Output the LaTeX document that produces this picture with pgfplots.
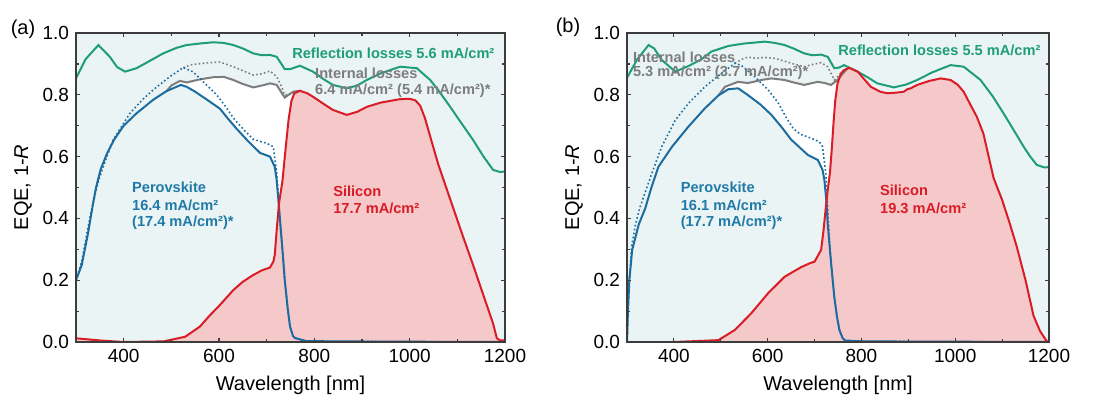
\documentclass[border=0pt]{standalone}
\usepackage{fontspec}
\setmainfont{Liberation Sans}
\usepackage{pgfplots}
\usepackage{pgfplotstable}
\pgfplotsset{compat=1.18}
\definecolor{bgteal}{RGB}{234,244,244}
\definecolor{sipink}{RGB}{245,200,202}
\definecolor{refgreen}{RGB}{30,158,118}
\definecolor{pvblue}{RGB}{28,108,160}
\definecolor{pvtext}{RGB}{32,122,168}
\definecolor{sired}{RGB}{218,28,38}
\definecolor{lossgray}{RGB}{125,125,125}
\definecolor{frame}{RGB}{60,60,60}

% ---------- panel (a) ----------
\pgfplotstableread{
x y
300 0.853
320 0.915
347 0.961
371 0.923
386 0.890
403 0.875
427 0.886
455 0.910
483 0.934
511 0.952
532 0.961
560 0.966
588 0.970
610 0.968
630 0.961
650 0.950
672 0.934
690 0.928
707 0.929
721 0.923
738 0.883
749 0.883
770 0.894
797 0.875
820 0.850
839 0.832
868 0.821
890 0.830
910 0.848
940 0.870
980 0.891
1015 0.886
1043 0.848
1060 0.815
1085 0.761
1110 0.705
1133 0.654
1155 0.600
1175 0.557
1190 0.550
1200 0.552
}\rA
\pgfplotstableread{
x y
300 0.200
312 0.249
325 0.350
336 0.450
342 0.500
352 0.560
365 0.610
380 0.655
400 0.700
427 0.740
462 0.784
490 0.812
520 0.832
532 0.826
550 0.810
574 0.785
602 0.755
616 0.728
637 0.690
658 0.655
686 0.612
707 0.600
717 0.567
721 0.524
724 0.470
728 0.395
733 0.300
738 0.200
744 0.110
749 0.050
755 0.020
759 0.013
783 0.003
850 0.002
1000 0.001
1200 0.000
}\pvA
\pgfplotstableread{
x y
300 0.200
312 0.260
325 0.370
333 0.430
345 0.510
357 0.567
378 0.654
413 0.740
440 0.785
462 0.816
497 0.859
525 0.888
546 0.874
565 0.845
595 0.800
615 0.760
630 0.725
650 0.690
672 0.656
700 0.643
714 0.632
721 0.546
725 0.460
728 0.395
733 0.300
738 0.200
744 0.110
749 0.050
755 0.020
759 0.013
783 0.003
850 0.002
1000 0.001
1200 0.000
}\pvdA
\pgfplotstableread{
x y
525 0.888
540 0.897
567 0.902
588 0.905
602 0.906
630 0.891
650 0.878
672 0.864
690 0.868
707 0.877
721 0.859
730 0.830
738 0.799
745 0.800
756 0.810
770 0.813
}\sdA
\pgfplotstableread{
x y
490 0.812
500 0.830
518 0.845
532 0.840
560 0.850
588 0.857
610 0.858
630 0.848
650 0.835
672 0.824
690 0.830
707 0.837
721 0.832
730 0.810
738 0.791
746 0.800
756 0.810
770 0.813
}\grA
\pgfplotstableread{
x y
300 0.012
350 0.005
400 0.000
484 0.002
529 0.017
560 0.050
580 0.085
602 0.120
630 0.168
650 0.195
672 0.217
690 0.232
707 0.241
714 0.260
717 0.282
721 0.362
726 0.450
733 0.520
740 0.630
746 0.720
752 0.780
758 0.805
770 0.813
785 0.805
797 0.794
820 0.770
839 0.751
868 0.735
890 0.745
910 0.761
940 0.775
980 0.786
1000 0.787
1012 0.782
1022 0.765
1032 0.725
1045 0.655
1060 0.575
1070 0.530
1090 0.440
1110 0.350
1134 0.245
1155 0.150
1175 0.060
1183 0.012
1190 0.005
1200 0.005
}\siA
\pgfplotstableread{
x y
300 0.200
312 0.249
325 0.350
336 0.450
342 0.500
352 0.560
365 0.610
380 0.655
400 0.700
427 0.740
462 0.784
490 0.812
500 0.830
518 0.845
532 0.840
560 0.850
588 0.857
610 0.858
630 0.848
650 0.835
672 0.824
690 0.830
707 0.837
721 0.832
730 0.810
738 0.791
746 0.800
756 0.810
770 0.813
785 0.805
797 0.794
820 0.770
839 0.751
868 0.735
890 0.745
910 0.761
940 0.775
980 0.786
1000 0.787
1012 0.782
1022 0.765
1032 0.725
1045 0.655
1060 0.575
1070 0.530
1090 0.440
1110 0.350
1134 0.245
1155 0.150
1175 0.060
1183 0.012
1190 0.005
1200 0.005
}\envA

% ---------- panel (b) ----------
\pgfplotstableread{
x y
300 0.855
322 0.915
346 0.961
358 0.950
374 0.913
403 0.875
431 0.893
459 0.915
480 0.940
516 0.958
550 0.966
594 0.972
615 0.968
636 0.961
655 0.950
678 0.934
695 0.928
714 0.930
728 0.923
742 0.886
752 0.888
763 0.896
792 0.875
815 0.855
834 0.837
869 0.824
895 0.833
919 0.848
950 0.872
990 0.896
1018 0.891
1054 0.848
1080 0.795
1103 0.740
1125 0.685
1146 0.632
1160 0.600
1174 0.573
1190 0.565
1200 0.566
}\rB
\pgfplotstableread{
x y
300 0.000
302 0.100
305 0.200
311 0.298
325 0.380
339 0.433
352 0.500
367 0.567
396 0.632
431 0.697
466 0.756
495 0.798
516 0.818
537 0.821
558 0.799
585 0.768
608 0.735
630 0.695
650 0.655
686 0.605
707 0.589
717 0.557
721 0.524
725 0.460
728 0.384
735 0.260
742 0.147
748 0.080
753 0.039
760 0.012
765 0.005
800 0.002
1000 0.001
1200 0.000
}\pvB
\pgfplotstableread{
x y
300 0.000
302 0.100
305 0.200
310 0.310
318 0.380
328 0.438
353 0.546
374 0.632
403 0.718
431 0.772
466 0.826
502 0.870
530 0.902
544 0.895
572 0.859
601 0.816
622 0.775
640 0.725
655 0.690
670 0.672
685 0.664
700 0.655
710 0.648
717 0.632
724 0.546
727 0.460
730 0.370
735 0.260
742 0.147
748 0.080
753 0.039
760 0.012
765 0.005
800 0.002
1000 0.001
1200 0.000
}\pvdB
\pgfplotstableread{
x y
530 0.902
545 0.915
558 0.922
575 0.918
594 0.921
615 0.918
636 0.909
655 0.900
678 0.891
695 0.898
714 0.904
728 0.891
742 0.848
750 0.860
756 0.870
766 0.885
}\sdB
\pgfplotstableread{
x y
495 0.798
509 0.826
537 0.842
558 0.838
587 0.848
608 0.853
636 0.848
655 0.840
678 0.832
695 0.838
707 0.842
722 0.838
735 0.832
749 0.848
760 0.868
770 0.885
}\grB
\pgfplotstableread{
x y
300 0.000
400 0.000
495 0.006
530 0.039
565 0.093
601 0.158
636 0.211
671 0.242
690 0.255
700 0.260
714 0.298
719 0.360
723 0.420
728 0.490
733 0.550
737 0.630
740 0.700
744 0.780
749 0.837
756 0.868
763 0.880
774 0.887
792 0.875
805 0.852
820 0.826
840 0.810
855 0.805
875 0.807
890 0.810
898 0.818
905 0.821
919 0.832
945 0.845
969 0.853
990 0.848
1005 0.833
1018 0.810
1030 0.775
1046 0.729
1060 0.675
1082 0.530
1100 0.460
1115 0.390
1131 0.310
1150 0.200
1167 0.085
1181 0.035
1195 0.003
1200 0.000
}\siB
\pgfplotstableread{
x y
300 0.000
302 0.100
305 0.200
311 0.298
325 0.380
339 0.433
352 0.500
367 0.567
396 0.632
431 0.697
466 0.756
495 0.798
509 0.826
537 0.842
558 0.838
587 0.848
608 0.853
636 0.848
655 0.840
678 0.832
695 0.838
707 0.842
722 0.838
735 0.832
749 0.848
760 0.868
770 0.885
774 0.887
792 0.875
805 0.852
820 0.826
840 0.810
855 0.805
875 0.807
890 0.810
898 0.818
905 0.821
919 0.832
945 0.845
969 0.853
990 0.848
1005 0.833
1018 0.810
1030 0.775
1046 0.729
1060 0.675
1082 0.530
1100 0.460
1115 0.390
1131 0.310
1150 0.200
1167 0.085
1181 0.035
1195 0.003
1200 0.000
}\envB

\pgfplotsset{
  eqestyle/.style={
    scale only axis, height=154.5pt,
    xmin=300, xmax=1200, ymin=0, ymax=1,
    xtick={400,600,800,1000,1200},
    ytick={0,0.2,0.4,0.6,0.8,1.0},
    minor x tick num=1, minor y tick num=1,
    tick align=inside,
    major tick length=2.2pt, minor tick length=1.4pt,
    axis line style={frame, line width=0.6pt},
    every tick/.style={frame, line width=0.6pt},
    ticklabel style={font=\fontsize{9.5}{11}\selectfont},
    /pgf/number format/assume math mode=true,
    yticklabel style={/pgf/number format/fixed, /pgf/number format/fixed zerofill, /pgf/number format/precision=1},
    xticklabel style={/pgf/number format/1000 sep={}},
    xlabel={Wavelength [nm]},
    ylabel={EQE, 1-\textit{R}},
    label style={font=\fontsize{10}{12}\selectfont},
    ylabel style={yshift=-1.5pt},
    axis background/.style={fill=bgteal},
    axis on top,
    anchor=south west,
  },
  thick line/.style={line width=1pt},
}
\tikzset{ann/.style={font=\fontsize{7.3}{9}\selectfont\bfseries, anchor=west, inner sep=0pt}}

\begin{document}
\begin{tikzpicture}
\path[use as bounding box] (0,0) rectangle (548pt,198.5pt);

\begin{axis}[eqestyle, width=214.5pt, at={(38pt,27.5pt)}]
\addplot[fill=white, draw=none] table {\envA} \closedcycle;
\addplot[fill=bgteal, draw=none] table {\pvA} \closedcycle;
\addplot[fill=sipink, draw=none] table {\siA} \closedcycle;
\addplot[refgreen, thick line] table {\rA};
\addplot[lossgray, thick line] table {\grA};
\addplot[lossgray, line width=0.8pt, dash pattern=on 0.8pt off 1.2pt] table {\sdA};
\addplot[pvblue, line width=0.8pt, dash pattern=on 0.8pt off 1.2pt] table {\pvdA};
\addplot[pvblue, thick line] table {\pvA};
\addplot[sired, thick line] table {\siA};
\node[ann, refgreen] at (axis cs:753,0.935) {Reflection losses 5.6 mA/cm²};
\node[ann, lossgray] at (axis cs:801,0.871) {Internal losses};
\node[ann, lossgray] at (axis cs:801,0.812) {6.4 mA/cm² (5.4 mA/cm²)*};
\node[ann, pvtext] at (axis cs:417,0.502) {Perovskite};
\node[ann, pvtext] at (axis cs:417,0.443) {16.4 mA/cm²};
\node[ann, pvtext] at (axis cs:417,0.385) {(17.4 mA/cm²)*};
\node[ann, sired] at (axis cs:839,0.487) {Silicon};
\node[ann, sired] at (axis cs:839,0.434) {17.7 mA/cm²};
\end{axis}

\begin{axis}[eqestyle, width=211pt, at={(313.5pt,27.5pt)}]
\addplot[fill=white, draw=none] table {\envB} \closedcycle;
\addplot[fill=bgteal, draw=none] table {\pvB} \closedcycle;
\addplot[fill=sipink, draw=none] table {\siB} \closedcycle;
\addplot[refgreen, thick line] table {\rB};
\addplot[lossgray, thick line] table {\grB};
\addplot[lossgray, line width=0.8pt, dash pattern=on 0.8pt off 1.2pt] table {\sdB};
\addplot[pvblue, line width=0.8pt, dash pattern=on 0.8pt off 1.2pt] table {\pvdB};
\addplot[pvblue, thick line] table {\pvB};
\addplot[sired, thick line] table {\siB};
\node[ann, lossgray] at (axis cs:312,0.922) {Internal losses};
\node[ann, lossgray] at (axis cs:312,0.871) {5.3 mA/cm² (3.7 mA/cm²)*};
\node[ann, refgreen] at (axis cs:750,0.945) {Reflection losses 5.5 mA/cm²};
\node[ann, pvtext] at (axis cs:414,0.502) {Perovskite};
\node[ann, pvtext] at (axis cs:414,0.443) {16.1 mA/cm²};
\node[ann, pvtext] at (axis cs:414,0.385) {(17.7 mA/cm²)*};
\node[ann, sired] at (axis cs:839,0.492) {Silicon};
\node[ann, sired] at (axis cs:839,0.434) {19.3 mA/cm²};
\end{axis}

\node[font=\fontsize{10}{12}\selectfont] at (11.5pt,184pt) {(a)};
\node[font=\fontsize{10}{12}\selectfont] at (284pt,185pt) {(b)};
\end{tikzpicture}
\end{document}
